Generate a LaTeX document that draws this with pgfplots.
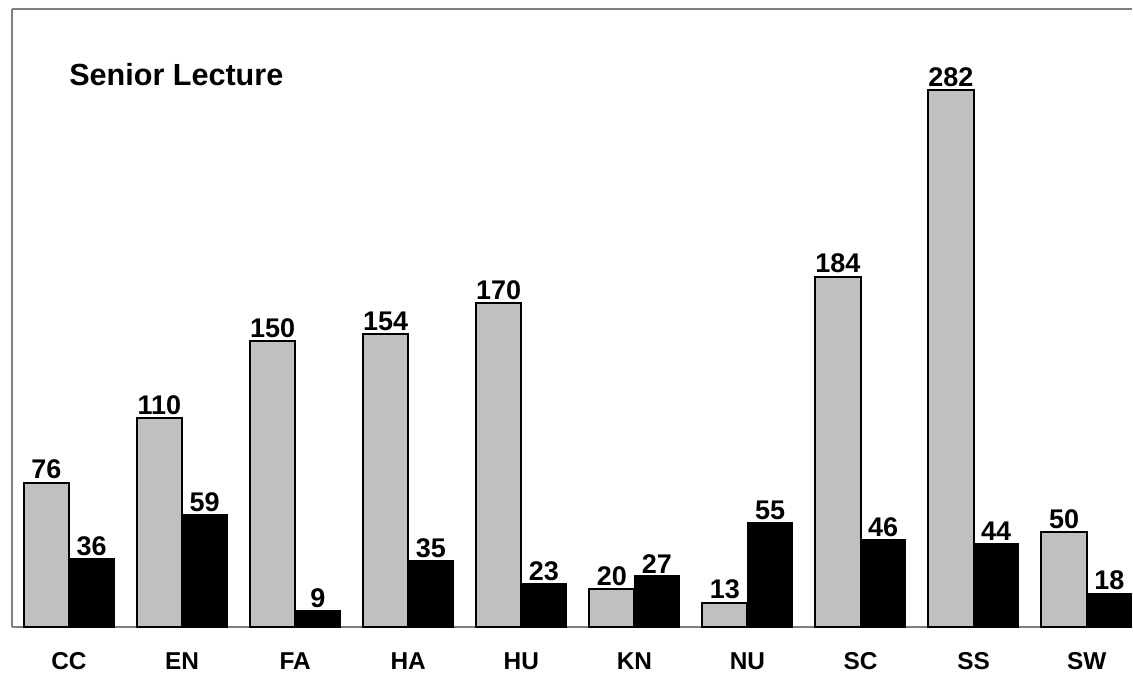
\documentclass[border=0pt]{standalone}
\usepackage{pgfplots}
\pgfplotsset{compat=1.18}
\usepackage{fontspec}
\setmainfont{Liberation Sans}
\definecolor{barGray}{RGB}{192,192,192}
\definecolor{frameGray}{RGB}{128,128,128}

\begin{document}
\begin{tikzpicture}
\begin{axis}[
    width=560.5pt, height=309.5pt, scale only axis,
    ybar, bar width=0.4,
    xmin=-0.504, xmax=9.4,
    ymin=0, ymax=324.4,
    axis x line=bottom, axis y line=left,
    axis line style={-, frameGray, line width=1.1pt},
    ytick=\empty,
    xtick={0,...,9},
    xticklabels={CC,EN,FA,HA,HU,KN,NU,SC,SS,SW},
    major tick length=0pt,
    xticklabel style={font=\fontsize{12.2}{14}\selectfont\bfseries, yshift=-9pt},
    /pgf/number format/assume math mode=true,
    nodes near coords,
    every node near coord/.append style={font=\fontsize{13.5}{15}\selectfont\bfseries, anchor=south, inner sep=1.2pt},
    clip=false,
]
\addplot[fill=barGray, draw=black, line width=1pt, bar shift=-0.2] coordinates {
    (0,76) (1,110) (2,150) (3,154) (4,170) (5,20) (6,13) (7,184) (8,282) (9,50)};
\addplot[fill=black, draw=black, line width=0.5pt, bar shift=0.2] coordinates {
    (0,36) (1,59) (2,9) (3,35) (4,23) (5,27) (6,55) (7,46) (8,44) (9,18)};
\draw[frameGray, line width=1.1pt] (rel axis cs:0,1) -- (rel axis cs:1,1);
\node[anchor=base west, inner sep=0pt, font=\fontsize{15.3}{18}\selectfont\bfseries] at (rel axis cs:0.0508,0.877) {Senior Lecture};
\end{axis}
\path (current axis.south west) ++(-6pt,-25.5pt) coordinate (bbA);
\path (current axis.north east) ++(0pt,4.5pt) coordinate (bbB);
\useasboundingbox (bbA) rectangle (bbB);
\end{tikzpicture}
\end{document}
